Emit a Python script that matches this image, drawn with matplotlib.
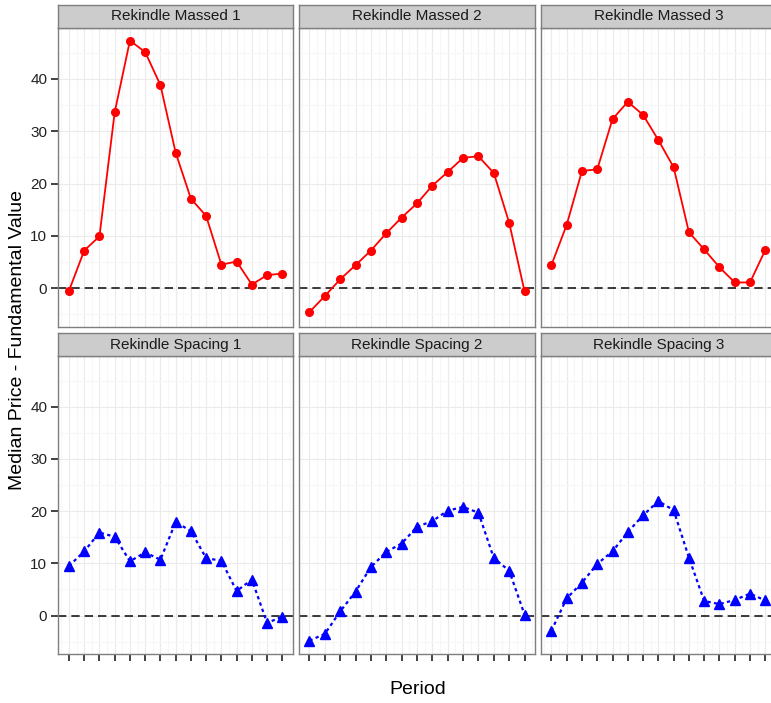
import matplotlib
matplotlib.use("Agg")
import matplotlib.pyplot as plt
import numpy as np

plt.rcParams['font.family'] = ['Liberation Sans', 'DejaVu Sans']

periods = list(range(1, 16))

massed_1 = [-0.5, 7.2, 9.9, 33.6, 47.3, 45.1, 38.8, 25.9, 17.1, 13.8, 4.5, 5.1, 0.7, 2.5, 2.8]
massed_2 = [-4.55, -1.5, 1.7, 4.4, 7.2, 10.5, 13.5, 16.2, 19.6, 22.2, 24.9, 25.2, 22.0, 12.5, -0.6]
massed_3 = [4.4, 12.1, 22.4, 22.7, 32.3, 35.6, 33.1, 28.3, 23.1, 10.7, 7.4, 4.0, 1.1, 1.1, 7.3]
spacing_1 = [9.5, 12.3, 15.9, 15.1, 10.4, 12.1, 10.7, 17.9, 16.2, 11.0, 10.5, 4.7, 6.9, -1.4, -0.2]
spacing_2 = [-4.8, -3.5, 0.8, 4.6, 9.3, 12.2, 13.8, 17.0, 18.1, 20.1, 20.8, 19.7, 11.0, 8.6, 0.2]
spacing_3 = [-2.9, 3.3, 6.3, 9.9, 12.3, 16.0, 19.2, 21.9, 20.2, 11.1, 2.8, 2.2, 3.0, 4.2, 2.9]

titles = ["Rekindle Massed 1", "Rekindle Massed 2", "Rekindle Massed 3",
          "Rekindle Spacing 1", "Rekindle Spacing 2", "Rekindle Spacing 3"]
series = [massed_1, massed_2, massed_3, spacing_1, spacing_2, spacing_3]

W, H = 771, 703
fig = plt.figure(figsize=(W / 100, H / 100), dpi=100)

col_x = [(58.3, 293.0), (298.7, 535.3), (540.7, 776.0)]
row_y = [(28.0, 326.7, 5.0), (356.0, 654.0, 333.3)]  # panel top, panel bottom, strip top

border = '#7f7f7f'

for i, (title, vals) in enumerate(zip(titles, series)):
    r, c = divmod(i, 3)
    x0, x1 = col_x[c]
    top, bot, stop = row_y[r]
    ax = fig.add_axes([x0 / W, 1 - bot / H, (x1 - x0) / W, (bot - top) / H])
    ax.set_xlim(0.3, 15.7)
    ax.set_ylim(-7.35, 49.7)
    ax.set_xticks(periods)
    ax.set_xticks(np.arange(0.5, 16, 1.0), minor=True)
    ax.set_yticks([0, 10, 20, 30, 40])
    ax.set_yticks([-5, 5, 15, 25, 35, 45], minor=True)
    ax.grid(which='major', color='#ebebeb', linewidth=0.8)
    ax.grid(which='minor', color='#f7f7f7', linewidth=0.8)
    ax.set_axisbelow(True)
    for s in ax.spines.values():
        s.set_color(border)
        s.set_linewidth(1.0)
    ax.tick_params(which='minor', length=0)
    ax.tick_params(which='major', length=5, width=1.2, color='#222222',
                   labelsize=11, labelcolor='#222222', pad=3)
    ax.set_xticklabels([])
    if c != 0:
        ax.tick_params(axis='y', length=0)
        ax.set_yticklabels([])
    if r == 0:
        ax.tick_params(axis='x', length=0)

    ax.axhline(0, color='#1a1a1a', linestyle=(0, (5, 3)), linewidth=1.2, zorder=2)
    if r == 0:
        ax.plot(periods, vals, color='#ff0000', linewidth=1.3, marker='o',
                markersize=5.5, zorder=3)
    else:
        ax.plot(periods, vals, color='#0000ff', linewidth=1.6, linestyle=(0, (1.5, 1.5)),
                marker='^', markersize=6.8, zorder=3)

    # strip
    sax = fig.add_axes([x0 / W, 1 - top / H, (x1 - x0) / W, (top - stop) / H])
    sax.set_facecolor('#cccccc')
    sax.set_xticks([])
    sax.set_yticks([])
    for s in sax.spines.values():
        s.set_color(border)
        s.set_linewidth(1.0)
    sax.text(0.5, 0.5, title, ha='center', va='center', fontsize=11,
             color='#1a1a1a', transform=sax.transAxes)

fig.text(418 / W, 1 - 690 / H, "Period", ha='center', va='center', fontsize=14)
fig.text(18 / W, 1 - 340 / H, "Median Price - Fundamental Value", ha='center',
         va='center', rotation=90, fontsize=14)

fig.savefig("out.png", dpi=100)
